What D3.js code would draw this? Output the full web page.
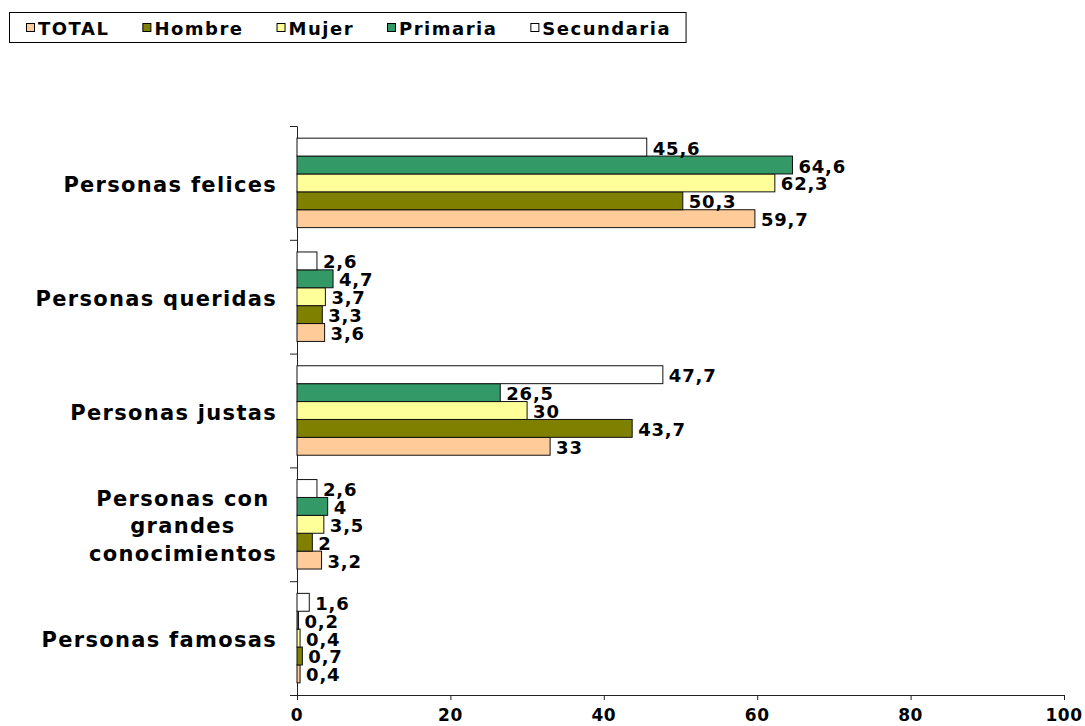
<!DOCTYPE html>
<html>
<head>
<meta charset="utf-8">
<script src="https://cdn.jsdelivr.net/npm/d3@7"></script>
<style>
  html, body { margin: 0; padding: 0; background: #fff; }
  svg { display: block; }
  text { font-family: "DejaVu Sans", Verdana, sans-serif; font-weight: bold; fill: #000; }
</style>
</head>
<body>
<svg id="chart" width="1085" height="726"></svg>
<script>
// ---- Data ----
const categories = ["Personas felices", "Personas queridas", "Personas justas", "Personas con grandes conocimientos", "Personas famosas"];
const seriesNames = ["TOTAL", "Hombre", "Mujer", "Primaria", "Secundaria"];
const totalValues      = [59.7, 3.6, 33, 3.2, 0.4];
const hombreValues     = [50.3, 3.3, 43.7, 2, 0.7];
const mujerValues      = [62.3, 3.7, 30, 3.5, 0.4];
const primariaValues   = [64.6, 4.7, 26.5, 4, 0.2];
const secundariaValues = [45.6, 2.6, 47.7, 2.6, 1.6];
const xTickValues = [0, 20, 40, 60, 80, 100];
const seriesColors = ["#FFCC99", "#808000", "#FFFF99", "#339966", "#FFFFFF"];

const seriesValues = [totalValues, hombreValues, mujerValues, primariaValues, secundariaValues];

// ---- Layout ----
const svg = d3.select("#chart");
const plot = { left: 297, right: 1064, top: 126, bottom: 695 };

const x = d3.scaleLinear().domain([0, 100]).range([plot.left, plot.right]);
const y = d3.scaleBand().domain(categories).range([plot.top, plot.bottom]).padding(0);
// Within each category, Excel draws the last series on top
const inner = d3.scaleBand().domain(seriesNames.slice().reverse())
  .range([0, y.bandwidth()]).paddingInner(0).paddingOuter(0.68);
const color = d3.scaleOrdinal().domain(seriesNames).range(seriesColors);
const fmt = v => String(v).replace(".", ",");

// ---- Axes ----
const yIdx = d3.scaleLinear().domain([0, categories.length]).range([plot.top, plot.bottom]);
const yAxis = svg.append("g").attr("transform", `translate(${plot.left},0)`)
  .call(d3.axisLeft(yIdx).ticks(categories.length).tickSize(7).tickFormat(""));
yAxis.select(".domain").attr("stroke", "#222");
yAxis.selectAll(".tick line").attr("stroke", "#222");

const xAxis = svg.append("g").attr("transform", `translate(0,${plot.bottom})`)
  .call(d3.axisBottom(x).tickValues(xTickValues).tickSize(5).tickFormat(""));
xAxis.select(".domain").attr("stroke", "#222").attr("d", `M${plot.left - 7},0.5H${plot.right}`);
xAxis.selectAll(".tick line").attr("stroke", "#222");
svg.append("g").selectAll("text").data(xTickValues).join("text")
  .attr("x", d => x(d)).attr("y", 721)
  .attr("text-anchor", "middle")
  .style("font-size", "17px").style("letter-spacing", "0.5px")
  .text(d => d);

// ---- Bars ----
const flat = [];
categories.forEach((c, ci) => {
  seriesNames.forEach((s, si) => flat.push({ cat: c, series: s, value: seriesValues[si][ci] }));
});

svg.append("g").selectAll("rect").data(flat).join("rect")
  .attr("x", x(0))
  .attr("y", d => y(d.cat) + inner(d.series))
  .attr("width", d => x(d.value) - x(0))
  .attr("height", inner.bandwidth())
  .attr("fill", d => color(d.series))
  .attr("stroke", "#111").attr("stroke-width", 1);

svg.append("g").selectAll("text").data(flat).join("text")
  .attr("x", d => x(d.value) + 6)
  .attr("y", d => y(d.cat) + inner(d.series) + inner.bandwidth() / 2 + 7.5)
  .style("font-size", "18px").style("letter-spacing", "0.8px")
  .text(d => fmt(d.value));

// ---- Category labels ----
const labelRight = 277;
const lineH = 27.5;
const catG = svg.append("g");
categories.forEach(c => {
  const t = catG.append("text").style("font-size", "21px").style("letter-spacing", "1.3px");
  // greedy wrap
  const words = c.split(" ");
  const lines = [];
  let cur = "";
  const probe = catG.append("text").style("font-size", "21px").style("letter-spacing", "1.3px");
  words.forEach(w => {
    const test = cur ? cur + " " + w : w;
    probe.text(test);
    if (cur && probe.node().getComputedTextLength() > 255) { lines.push(cur); cur = w; }
    else cur = test;
  });
  lines.push(cur);
  let maxW = 0;
  lines.forEach(l => { probe.text(l); maxW = Math.max(maxW, probe.node().getComputedTextLength()); });
  probe.remove();
  const cx = labelRight - maxW / 2;
  const cy = y(c) + y.bandwidth() / 2;
  const firstBase = cy + 9 - (lines.length - 1) * lineH / 2;
  t.attr("text-anchor", "middle");
  lines.forEach((l, i) => {
    t.append("tspan").attr("x", cx).attr("y", firstBase + i * lineH).text(l);
  });
});

// ---- Legend ----
const legend = svg.append("g");
const legendBox = legend.append("rect")
  .attr("x", 9.5).attr("y", 12.5).attr("height", 30)
  .attr("fill", "#fff").attr("stroke", "#000").attr("stroke-width", 1);
let lx = 26;
seriesNames.forEach((s, i) => {
  legend.append("rect").attr("x", lx + 0.5).attr("y", 23.5).attr("width", 8).attr("height", 8)
    .attr("fill", color(s)).attr("stroke", "#000").attr("stroke-width", 1);
  const t = legend.append("text").attr("x", lx + 12).attr("y", 34.5)
    .style("font-size", "18px").style("letter-spacing", "1.5px").text(s);
  const w = t.node().getComputedTextLength();
  lx = lx + 12 + w + (i < seriesNames.length - 1 ? 33 : 15);
});
legendBox.attr("width", lx - 9.5);
</script>
</body>
</html>
